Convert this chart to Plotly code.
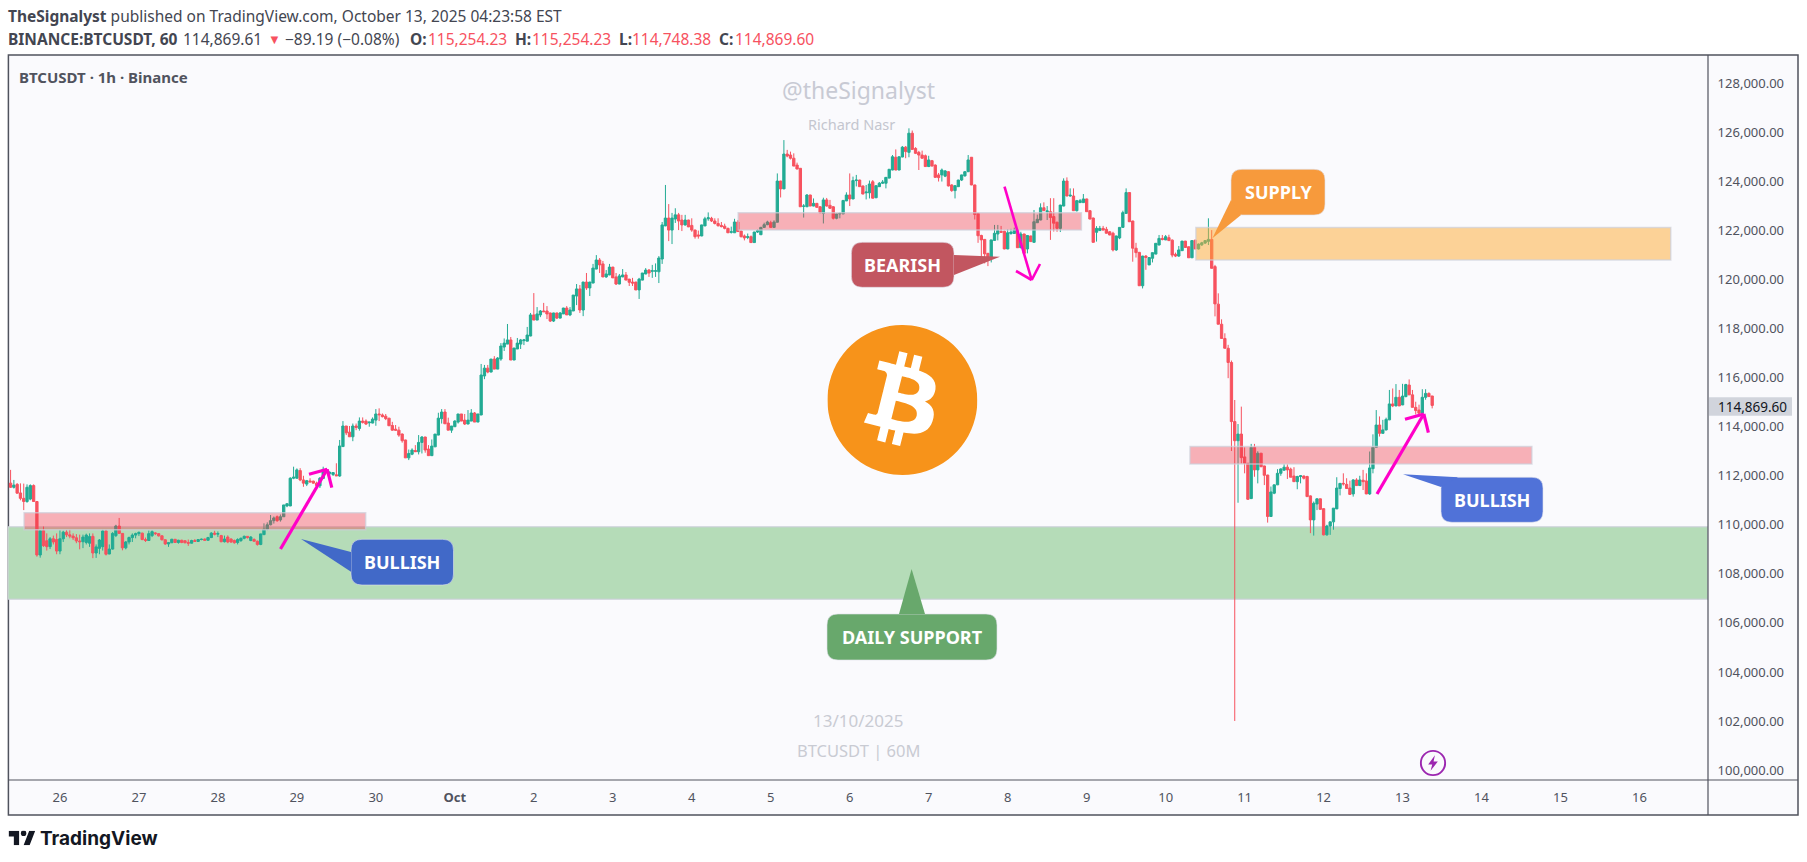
import base64
import pandas as pd
import plotly.graph_objects as go

# hourly candles, one list per day: (open, high, low, close)
sep25 = [(111700,112240,111500,111530),(111530,111830,111480,111620),(111650,111700,111280,111290),(111300,111690,111000,111080),(111080,111680,110600,110950),
         (110950,111650,110900,111530),(111050,111650,111000,111600),(111600,111650,110950,110950),(110950,110950,108700,108770),(108770,109760,108660,109760),
         (109760,109930,109100,109150),(109350,109650,108950,109110),(109110,109500,109010,109430),(109430,109560,109200,109300),(109400,109650,108800,108930)]
sep26 = [(108930,109780,108800,109430),(109430,109760,109300,109700),(109700,109790,109500,109590),(109590,109800,109450,109540),(109540,109650,109380,109470),(109470,109620,109250,109340),
         (109340,109600,109000,109310),(109310,109600,109050,109500),(109280,109640,109200,109580),(109250,109650,109100,109520),(109530,109650,108640,108850),(108850,109200,108650,109100),
         (109040,109420,108800,109380),(109110,109800,108950,109750),(109750,109800,108750,108800),(108810,109200,108800,109010),(109010,109700,108990,109650),(109560,110000,109500,109950),
         (109950,110280,109650,109650),(109650,109660,108960,109060),(109060,109340,109000,109300),(109300,109520,109200,109480),(109480,109650,109300,109580),(109580,109680,109450,109640)]
sep27 = [(109640,109730,109540,109690),(109660,109680,109370,109400),(109400,109480,109300,109360),(109360,109770,109350,109640),(109560,109780,109500,109720),(109670,109700,109580,109640),
         (109640,109650,109520,109550),(109550,109580,109360,109390),(109390,109410,109180,109220),(109220,109290,109100,109270),(109270,109430,109250,109410),(109410,109420,109260,109280),
         (109280,109390,109230,109370),(109370,109390,109250,109280),(109350,109380,109240,109270),(109280,109400,109140,109250),(109250,109390,109240,109360),(109360,109420,109300,109320),
         (109320,109420,109300,109400),(109400,109440,109370,109410),(109420,109440,109360,109370),(109370,109510,109350,109480),(109480,109700,109460,109660),(109660,109760,109570,109620)]
sep28 = [(109620,109730,109500,109640),(109560,109590,109290,109310),(109310,109560,109280,109420),(109500,109570,109250,109300),(109420,109450,109260,109300),(109360,109400,109230,109270),
         (109280,109450,109200,109400),(109360,109480,109300,109450),(109450,109560,109410,109530),(109530,109540,109440,109480),(109360,109540,109330,109500),(109400,109450,109310,109330),
         (109330,109360,109150,109200),(109200,109620,109170,109630),(109600,110060,109580,109820),(109820,110100,109780,110000),(110000,110400,109980,110170),(110170,110340,110050,110280),
         (110330,110380,110120,110170),(110200,110420,110130,110330),(110330,110800,110320,110810),(110770,110880,110720,110860),(110770,111940,110760,111900),(111900,112370,111860,111940)]
sep29 = [(111900,112300,111880,112240),(112210,112310,111780,111830),(111830,112000,111550,111700),(111660,111830,111580,111800),(111790,111900,111730,111750),(111780,111800,111680,111700),
         (111700,111760,111520,111600),(111590,111950,111500,111900),(111890,112370,111880,112260),(112240,112310,112110,112130),(112100,112190,112030,112130),(112050,112150,111990,112130),
         (112040,112510,111990,112000),(111990,113460,111960,113215),(113190,114230,113180,114030),(114030,114030,113660,113750),(113780,114030,113590,113590),(113590,114130,113410,114030),
         (114030,114130,113860,113970),(113930,114380,113840,114230),(114230,114380,114130,114180),(114230,114300,114070,114110),(114160,114190,114000,114190),(114150,114380,114140,114310)]
sep30 = [(114270,114720,114040,114520),(114520,114750,114230,114490),(114480,114540,114380,114410),(114430,114520,114270,114330),(114350,114360,114040,114040),(114050,114200,113840,113860),
         (113900,114070,113840,113860),(113860,114000,113590,113660),(113700,113730,113350,113430),(113460,113470,112730,112730),(112730,113070,112640,112910),(112880,113120,112840,113050),
         (113030,113250,112980,112980),(112980,113660,112870,113360),(113360,113620,112910,113580),(113580,113590,112940,113050),(113090,113250,112820,112820),(112820,113480,112810,113210),
         (113180,113700,113180,113700),(113660,114570,113650,114350),(114330,114720,114130,114600),(114600,114720,114120,114120),(114150,114370,113860,113860),(113860,114030,113750,114030)]
oct1 = [(114000,114270,114000,114230),(114190,114520,114130,114520),(114520,114520,114230,114230),(114270,114520,114070,114110),(114110,114680,114100,114270),(114230,114720,114230,114560),
        (114560,114600,114190,114190),(114190,114520,114190,114520),(114480,116560,114470,116110),(116070,116520,115940,116390),(116390,116520,116180,116230),(116230,116760,116220,116760),
        (116760,116880,116350,116350),(116350,116840,116350,116800),(116760,117410,116690,117290),(117250,117600,117090,117410),(117370,118190,117370,117540),(117540,117660,116720,116720),
        (116720,117210,116720,117210),(117170,117620,117170,117410),(117370,117580,117170,117540),(117510,117580,117330,117540),(117490,118070,117490,117740),(117700,118640,117690,118560)]
oct2 = [(118560,119450,118350,118350),(118350,118880,118350,118600),(118560,118760,118470,118720),(118720,119050,118690,118690),(118720,118920,118390,118600),(118640,118650,118270,118310),
        (118310,118650,118270,118640),(118640,118650,118390,118430),(118430,118680,118420,118640),(118600,118850,118600,118840),(118840,118920,118560,118560),(118560,118880,118510,118760),
        (118720,119370,118720,119370),(119330,119820,118960,119620),(119620,119780,118640,118760),(118760,119910,118510,119900),(119900,120270,119580,119660),(119660,119910,119330,119900),
        (119860,120640,119850,120470),(120430,121000,120420,120800),(120800,120880,120270,120600),(120640,120760,120100,120110),(120110,120390,120070,120230),(120190,120640,120180,120510)]
oct3 = [(120510,120520,120070,120070),(120110,120270,119780,119820),(119820,120230,119810,120150),(120110,120430,120100,120190),(120190,120310,119980,119980),(120020,120030,119740,119890),
        (119900,120070,119740,119860),(119900,119910,119570,119580),(119580,120070,119210,120020),(119980,120270,119970,120270),(120230,120470,120220,120390),(120390,120430,120110,120270),
        (120340,120600,120070,120360),(120340,120660,120110,120360),(120320,120960,119860,120880),(120840,122350,120640,122230),(122190,123860,122180,122510),(122510,123080,121570,122020),
        (122020,122720,121450,122510),(122470,122910,122310,122640),(122640,122720,122020,122390),(122430,122640,121980,122230),(122230,122640,122200,122430),(122430,122440,122140,122150)]
oct4 = [(122210,122500,121950,122020),(122020,122040,121670,121750),(121820,122000,121670,121780),(121780,122240,121770,122230),(122190,122560,122180,122480),(122480,122740,122400,122520),
        (122500,122560,122350,122390),(122390,122500,122250,122290),(122290,122500,122160,122200),(122210,122350,122130,122160),(122180,122280,122050,122090),(122090,122120,121900,121910),
        (121930,122160,121880,121950),(121910,122480,121900,122350),(122350,122430,121950,121960),(121980,122000,121720,121750),(121780,121840,121600,121700),(121720,121880,121650,121750),
        (121750,121800,121500,121510),(121510,121950,121500,121940),(121940,122050,121900,122000),(121830,122150,121820,122130),(122130,122320,122120,122240),(122240,122400,122220,122350)]
oct5 = [(122320,122400,122120,122130),(122130,122420,122120,122350),(122340,124330,122330,124020),(124020,124030,123350,123700),(123700,125690,123690,125120),(125120,125290,124990,125040),
        (125080,125220,124900,124950),(124950,125150,124630,124630),(124670,124770,124500,124510),(124540,124550,122970,122970),(122990,123080,122530,123000),(122970,123490,122960,123450),
        (123450,123460,123000,123000),(123000,123310,122990,123110),(123110,123120,122930,122950),(122970,123000,122700,122730),(122700,123340,122290,123250),(123250,123330,122980,123000),
        (123030,123250,122880,122910),(122970,123000,122450,122500),(122500,122690,122460,122680),(122680,122730,122500,122700),(122680,123240,122670,123230),(123210,123560,123200,123450)]
oct6 = [(123450,124330,123000,123290),(123290,124200,123280,124040),(124040,124270,123800,124060),(124060,124070,123780,123790),(123820,123830,123480,123490),(123540,123860,123270,123570),
        (123540,124040,123310,123900),(123990,124060,123310,123320),(123340,123840,123320,123830),(123790,123980,123780,123930),(123930,124060,123900,123970),(123930,124180,123720,124170),
        (124140,124500,124130,124500),(124470,125080,124460,125010),(124990,125310,124460,124470),(124470,125020,124460,125010),(125000,125450,124990,125400),(125400,125450,124950,125220),
        (125190,126170,124990,125970),(125970,126080,125310,125310),(125350,125400,125120,125150),(125190,125250,124470,125080),(125080,125260,124930,124950),(125050,125100,124600,124610)]
oct7 = [(124610,125050,124590,124880),(124850,124880,124620,124630),(124670,124700,124150,124170),(124270,124350,124000,124160),(124270,124530,124000,124470),(124220,124470,124180,124430),
        (124400,124420,123800,123820),(123860,123890,123580,123630),(123630,123850,123310,123830),(123790,124070,123780,124060),(124060,124280,124020,124270),(124230,124430,124200,124400),
        (124400,125080,124390,124880),(124990,125000,123850,123860),(123860,123870,122450,122660),(122700,122720,121500,121790),(121800,121830,120770,121620),(121640,121650,120660,121050),
        (121070,121090,120550,120870),(120870,121620,120700,121620),(121600,122230,121590,121890),(121860,122230,121600,122000),(121970,122190,121900,121930),(121970,122000,121240,121250)]
oct8 = [(121250,122050,121240,121910),(121880,122070,121830,121940),(121880,122120,121870,122020),(122020,122030,121290,121300),(121300,121950,121280,121860),(121860,121870,121000,121070),
        (121250,121810,121070,121800),(121780,121790,121540,121550),(121520,122840,121510,122360),(122320,122650,122310,122460),(122430,123110,122420,122930),(122930,123150,122800,122810),
        (122770,123000,122430,122800),(122770,123320,121620,122530),(122570,123320,121960,122300),(122340,122360,121950,122090),(122090,123050,121940,123040),(123000,124130,122990,124020),
        (124020,124170,123400,123410),(123410,123720,123380,123440),(123410,123720,122800,122810),(122810,123250,122780,123220),(123140,123290,123130,123220),(123140,123490,123130,123290)]
oct9 = [(123290,123300,122760,122770),(122810,122840,122460,122470),(122510,122530,121510,121520),(121930,122180,121550,122090),(122000,122190,121990,122090),(122090,122190,122010,122020),
        (122050,122150,121880,121890),(121950,121980,121810,121820),(121890,121950,121150,121210),(121210,121790,121170,121780),(121700,122140,121650,122130),(122130,122810,122120,122730),
        (122700,123720,122690,123550),(123550,123560,122350,122360),(122390,122400,120730,121280),(121280,121500,120900,121100),(121110,121130,119750,119750),(119750,120970,119640,120960),
        (120960,121000,120400,120900),(120600,120900,120590,120900),(120870,121100,120700,121100),(121040,121490,121040,121480),(121410,121820,121400,121680),(121680,121820,121600,121640)]
oct10 = [(121620,121820,121610,121750),(121710,121830,121580,121590),(121610,121640,120910,121000),(121030,121100,120920,120960),(120960,121370,120930,121210),(121180,121580,121170,121570),
         (121570,121580,121300,121310),(121340,121350,120890,120890),(120890,121600,120880,121590),(121610,121620,121240,121250),(121250,121470,121230,121450),(121420,121540,121370,121500),
         (121490,121600,121450,121590),(121560,122500,121410,121640),(121640,122020,120460,120460),(120530,120600,118500,119010),(119000,119440,118180,118180),(118180,118380,117600,117600),
         (117600,117810,117200,117200),(117200,117340,115980,116620),(116620,116700,113010,114210),(114210,115090,102000,113430),(113430,114110,110900,113700),(113700,114820,112500,112740)]
oct11 = [(112770,113160,112100,112510),(112510,112520,111020,111040),(111070,113300,111050,113160),(113160,113300,111960,112240),(112240,113000,111690,112920),(112920,112930,112350,112370),
         (112400,112410,111620,112020),(112030,112040,110090,110340),(110340,111560,110320,111340),(111290,111640,111250,111630),(111630,112270,111620,112100),(112100,112300,112000,112280),
         (112230,112470,112200,112350),(112350,112470,111870,112240),(112270,112330,111940,111940),(111990,112350,111750,111760),(111760,112000,111450,111970),(111970,112030,111690,112000),
         (111990,112010,111850,111900),(111970,112000,111150,111150),(111180,111200,109660,110200),(110200,110950,109560,110880),(110850,111080,110600,111060),(111060,111070,110630,110630)]
oct12 = [(110660,110670,109570,109590),(109590,110000,109560,109950),(109950,110130,109590,110120),(110120,110680,109800,110680),(110650,111940,110640,111500),(111480,111700,111200,111690),
         (111690,112100,111600,111670),(111650,111900,111470,111480),(111500,111800,111220,111240),(111260,111860,111150,111830),(111830,111900,111590,111600),(111600,112000,111590,111830),
         (111820,112240,111420,111760),(111790,112100,111250,111260),(111260,112990,111220,112320),(112290,113690,112100,113160),(113160,114680,113150,114070),(114070,114420,113600,113730),
         (113730,114280,113730,113870),(113870,114370,113850,114300),(114280,115500,114270,114930),(114930,115560,114800,114850),(114850,115740,114830,115200),(115200,115500,114840,114850)]
oct13 = [(114890,115750,114880,115250),(115230,115750,115200,115720),(115700,115930,115300,115300),(115300,115500,114790,114790),(114790,115020,114500,114660),(114680,114900,114450,114550),
         (114550,115530,114520,115200),(115200,115530,115100,115360),(115360,115400,115230,115230),(115254.23,115254.23,114748.38,114869.60)]

day_starts = ["2025-09-25 09:00", "2025-09-26", "2025-09-27", "2025-09-28", "2025-09-29", "2025-09-30", "2025-10-01", "2025-10-02", "2025-10-03",
              "2025-10-04", "2025-10-05", "2025-10-06", "2025-10-07", "2025-10-08", "2025-10-09", "2025-10-10", "2025-10-11", "2025-10-12", "2025-10-13"]
day_rows = [sep25, sep26, sep27, sep28, sep29, sep30, oct1, oct2, oct3, oct4, oct5, oct6, oct7, oct8, oct9, oct10, oct11, oct12, oct13]

tick_dates = ["2025-09-26", "2025-09-27", "2025-09-28", "2025-09-29", "2025-09-30", "2025-10-01", "2025-10-02", "2025-10-03", "2025-10-04", "2025-10-05",
              "2025-10-06", "2025-10-07", "2025-10-08", "2025-10-09", "2025-10-10", "2025-10-11", "2025-10-12", "2025-10-13", "2025-10-14", "2025-10-15", "2025-10-16"]
tick_text = ["26", "27", "28", "29", "30", "<b>Oct</b>", "2", "3", "4", "5", "6", "7", "8", "9", "10", "11", "12", "13", "14", "15", "16"]
price_ticks = [100000, 102000, 104000, 106000, 108000, 110000, 112000, 114000, 116000, 118000, 120000, 122000, 124000, 126000, 128000]

last_price = 114869.60
green_zone = ["2025-09-25 08:13", "2025-10-16 20:49", 106960, 109920]
red_zones = [["2025-09-25 13:06", "2025-09-29 20:54", 109795, 110495],
             ["2025-10-04 14:06", "2025-10-08 22:24", 122020, 122730],
             ["2025-10-10 07:24", "2025-10-14 15:18", 112480, 113190]]
orange_zone = ["2025-10-10 09:12", "2025-10-16 09:30", 120800, 122130]

UP = "#22ab94"
DOWN = "#f7525f"
FRAME = "#50535e"
BG = "#fafafd"
FONT = "Noto Sans"

L, R, T, B = 8.0, 1708.0, 55.0, 780.0


def fx(x):
    return (x - L) / (R - L)


def fy(y):
    return (B - y) / (B - T)


def svg_uri(svg):
    return "data:image/svg+xml;base64," + base64.b64encode(svg.encode()).decode()


def line_px(fig, x0, y0, x1, y1, color, width, layer="above"):
    fig.add_shape(type="line", xref="paper", yref="paper", x0=fx(x0), y0=fy(y0), x1=fx(x1), y1=fy(y1),
                  line=dict(color=color, width=width), layer=layer)


def text_px(fig, x, y, text, size, color, anchor="center", family=FONT):
    fig.add_annotation(xref="paper", yref="paper", x=fx(x), y=fy(y), text=text, showarrow=False, xanchor=anchor, yanchor="middle",
                       font=dict(family=family, size=size, color=color), borderpad=0, borderwidth=0)


def bubble(fig, x0, y0, x1, y1, color, tri, label, r=11):
    path = (f"M{fx(x0 + r)},{fy(y0)} L{fx(x1 - r)},{fy(y0)} Q{fx(x1)},{fy(y0)} {fx(x1)},{fy(y0 + r)} "
            f"L{fx(x1)},{fy(y1 - r)} Q{fx(x1)},{fy(y1)} {fx(x1 - r)},{fy(y1)} L{fx(x0 + r)},{fy(y1)} "
            f"Q{fx(x0)},{fy(y1)} {fx(x0)},{fy(y1 - r)} L{fx(x0)},{fy(y0 + r)} Q{fx(x0)},{fy(y0)} {fx(x0 + r)},{fy(y0)} Z")
    fig.add_shape(type="path", path=path, xref="paper", yref="paper", fillcolor=color, line=dict(color="rgba(225,225,235,0.6)", width=1))
    tri_path = "M" + " L".join(f"{fx(a)},{fy(b)}" for a, b in tri) + " Z"
    fig.add_shape(type="path", path=tri_path, xref="paper", yref="paper", fillcolor=color, line=dict(width=0))
    text_px(fig, (x0 + x1) / 2, (y0 + y1) / 2, f"<b>{label}</b>", 18, "white")


def arrow(fig, start, tip, head_a, head_b, width=3.2):
    color = "#ff00c8"
    line_px(fig, start[0], start[1], tip[0], tip[1], color, width)
    line_px(fig, head_a[0], head_a[1], tip[0], tip[1], color, width)
    line_px(fig, head_b[0], head_b[1], tip[0], tip[1], color, width)


def zone(fig, spec, fill, layer):
    fig.add_shape(type="rect", xref="x", yref="y", x0=spec[0], x1=spec[1], y0=spec[2], y1=spec[3], fillcolor=fill,
                  line=dict(color="rgba(205,208,220,0.7)", width=1.5), layer=layer)


times = []
rows = []
for start, day in zip(day_starts, day_rows):
    times.extend(pd.date_range(start, periods=len(day), freq="h"))
    rows.extend(day)
opens = [r[0] for r in rows]
highs = [r[1] for r in rows]
lows = [r[2] for r in rows]
closes = [r[3] for r in rows]

fig = go.Figure(go.Candlestick(x=times, open=opens, high=highs, low=lows, close=closes, whiskerwidth=0,
                               increasing=dict(line=dict(color=UP, width=1), fillcolor=UP),
                               decreasing=dict(line=dict(color=DOWN, width=1), fillcolor=DOWN)))

fig.update_layout(width=1807, height=862, margin=dict(l=L, r=1807 - R, t=T, b=862 - B), paper_bgcolor="white", plot_bgcolor=BG,
                  showlegend=False, font=dict(family=FONT, color=FRAME), hovermode=False, boxgap=0.3, boxgroupgap=0)
fig.update_xaxes(type="date", range=["2025-09-25 08:13", "2025-10-16 20:49"], rangeslider_visible=False, showgrid=False, zeroline=False,
                 tickmode="array", tickvals=tick_dates, ticktext=tick_text, tickfont=dict(size=13, color=FRAME),
                 ticks="outside", ticklen=5, tickcolor="rgba(0,0,0,0)", showline=False)
fig.update_yaxes(side="right", range=[99593, 129160], showgrid=False, zeroline=False, tickmode="array", tickvals=price_ticks,
                 tickformat=",.2f", tickfont=dict(size=13, color=FRAME), ticks="outside", ticklen=6, tickcolor="rgba(0,0,0,0)", showline=False)

# frame of the two panes
fig.add_shape(type="rect", xref="paper", yref="paper", x0=fx(8.4), x1=fx(1798), y0=fy(815), y1=fy(55), fillcolor=BG, line=dict(color=FRAME, width=1.5), layer="below")
line_px(fig, 1708, 55, 1708, 815, FRAME, 1.2)
line_px(fig, 8.4, 780, 1798, 780, FRAME, 1.2)

zone(fig, green_zone, "#b5dcb8", "below")
for spec in red_zones:
    zone(fig, spec, "rgba(242,54,69,0.38)", "above")
zone(fig, orange_zone, "rgba(253,170,50,0.5)", "above")

# last price label on the scale
fig.add_shape(type="rect", xref="paper", yref="paper", x0=fx(1709), x1=fx(1792), y0=fy(415.7), y1=fy(397.3), fillcolor="#d1d4dc", line=dict(width=0))
text_px(fig, 1752, 406.5, f"{last_price:,.2f}", 13.5, "#131722")

# callouts
bubble(fig, 351, 539.3, 453.5, 585, "#4169c8", [(351, 552), (301, 539), (351, 571.7)], "BULLISH")
bubble(fig, 1441, 477.3, 1543, 522.3, "#5072d8", [(1458, 477.3), (1403, 474.3), (1441, 487)], "BULLISH")
bubble(fig, 851.4, 242.3, 954, 287.3, "#c25660", [(954, 255), (1000, 256.7), (954, 275)], "BEARISH")
bubble(fig, 1231, 169.3, 1325, 215, "#f79a3c", [(1231, 200), (1212.4, 238.3), (1241, 215)], "SUPPLY")
bubble(fig, 827, 614, 997, 660, "#68a86c", [(899, 614), (911.6, 569), (925, 614)], "DAILY SUPPORT")

# hand drawn arrows
arrow(fig, (280.5, 549), (327.2, 469.3), (309, 474.3), (331.8, 487.7))
arrow(fig, (1004.5, 186.7), (1031.7, 280), (1016, 271), (1040, 264), 2.6)
arrow(fig, (1377, 494), (1423.8, 414), (1405, 419.3), (1428.4, 432.7))

# header, placed piece by piece like the published snapshot
HEAD = "#434651"
text_px(fig, 8, 16.5, "<b>TheSignalyst</b> published on TradingView.com, October 13, 2025 04:23:58 EST", 15.5, HEAD, "left")
text_px(fig, 8, 38.5, "<b>BINANCE:BTCUSDT, 60</b>", 15.5, HEAD, "left")
text_px(fig, 182.5, 38.5, "114,869.61", 15.5, HEAD, "left")
text_px(fig, 268, 38.5, "▼", 13, DOWN, "left")
text_px(fig, 285, 38.5, "−89.19 (−0.08%)", 15.5, HEAD, "left")
text_px(fig, 410, 38.5, "<b>O:</b>", 15.5, HEAD, "left")
text_px(fig, 427.5, 38.5, "115,254.23", 15.5, DOWN, "left")
text_px(fig, 515, 38.5, "<b>H:</b>", 15.5, HEAD, "left")
text_px(fig, 532, 38.5, "115,254.23", 15.5, DOWN, "left")
text_px(fig, 619, 38.5, "<b>L:</b>", 15.5, HEAD, "left")
text_px(fig, 631.5, 38.5, "114,748.38", 15.5, DOWN, "left")
text_px(fig, 719, 38.5, "<b>C:</b>", 15.5, HEAD, "left")
text_px(fig, 735, 38.5, "114,869.60", 15.5, DOWN, "left")

text_px(fig, 19, 76.5, "<b>BTCUSDT · 1h · Binance</b>", 15, FRAME, "left")
text_px(fig, 858.5, 90, "@theSignalyst", 23, "#c8cad4")
text_px(fig, 851.5, 124.5, "Richard Nasr", 14.5, "#c4c6cf")
text_px(fig, 858.5, 720, "13/10/2025", 17, "#c9cbd3")
text_px(fig, 858.5, 750, "BTCUSDT | 60M", 16.5, "#c9cbd3")
text_px(fig, 40, 838, "<b>TradingView</b>", 19, "#131722", "left", "Inter")

# bitcoin logo, published-idea flash and TradingView mark
btc = ('<svg xmlns="http://www.w3.org/2000/svg" viewBox="0 0 64 64"><path fill="#f7931a" d="M63.04 39.741c-4.274 17.143-21.638 27.575-38.783 23.301C7.12 58.768-3.313 41.404.962 24.262 '
       '5.234 7.117 22.597-3.317 39.737.957c17.144 4.274 27.576 21.64 23.302 38.784z"/><path fill="#fff" d="M46.11 27.441c.636-4.258-2.606-6.547-7.039-8.074l1.438-5.768-3.512-.875-1.4 5.616'
       'c-.922-.23-1.87-.447-2.812-.662l1.41-5.653-3.509-.875-1.439 5.766c-.764-.174-1.514-.346-2.242-.527l.004-.018-4.842-1.209-.934 3.75s2.605.597 2.55.634c1.422.355 1.68 1.296 1.636 2.042'
       'l-1.638 6.571c.098.025.225.061.365.117l-.37-.092-2.297 9.205c-.174.432-.615 1.08-1.609.834.035.051-2.552-.637-2.552-.637l-1.743 4.02 4.57 1.139c.85.213 1.683.436 2.502.646l-1.453 5.835 '
       '3.507.875 1.44-5.772c.957.26 1.887.5 2.797.726L27.504 50.8l3.511.875 1.453-5.823c5.987 1.133 10.49.676 12.383-4.738 1.527-4.36-.075-6.875-3.225-8.516 2.294-.531 4.022-2.04 4.483-5.157z'
       'M38.087 38.69c-1.086 4.36-8.426 2.004-10.807 1.412l1.928-7.729c2.38.594 10.011 1.77 8.88 6.317zm1.085-11.312c-.99 3.966-7.1 1.951-9.083 1.457l1.748-7.01c1.983.494 8.367 1.416 7.335 5.553z"/></svg>')
bolt = ('<svg xmlns="http://www.w3.org/2000/svg" viewBox="0 0 28 28"><circle cx="14" cy="14" r="12.6" fill="none" stroke="#9c27b0" stroke-width="2"/>'
        '<path fill="#9c27b0" d="M16 6L9 15.5h4.2L11.5 22 19 12.5h-4.4z"/></svg>')
tv_mark = ('<svg xmlns="http://www.w3.org/2000/svg" viewBox="0 4 36 18"><path fill="#131722" d="M14 22H7V11H0V4h14v18zM28 22h-8l7.5-18h8L28 22z"/><circle cx="20" cy="7" r="3.6" fill="#131722"/></svg>')


def image_px(fig, svg, x, y, w, h):
    fig.add_layout_image(source=svg_uri(svg), xref="paper", yref="paper", x=fx(x), y=fy(y), sizex=w / (R - L), sizey=h / (B - T),
                         xanchor="left", yanchor="top", sizing="stretch", layer="above")


image_px(fig, btc, 827.4, 325, 150, 150)
image_px(fig, bolt, 1419.5, 749.5, 27, 27)
image_px(fig, tv_mark, 8.6, 830.7, 27, 14.6)

fig.write_html("out.html", config=dict(displayModeBar=False),
               post_script="document.body.style.margin='0';document.body.style.overflow='hidden';")
